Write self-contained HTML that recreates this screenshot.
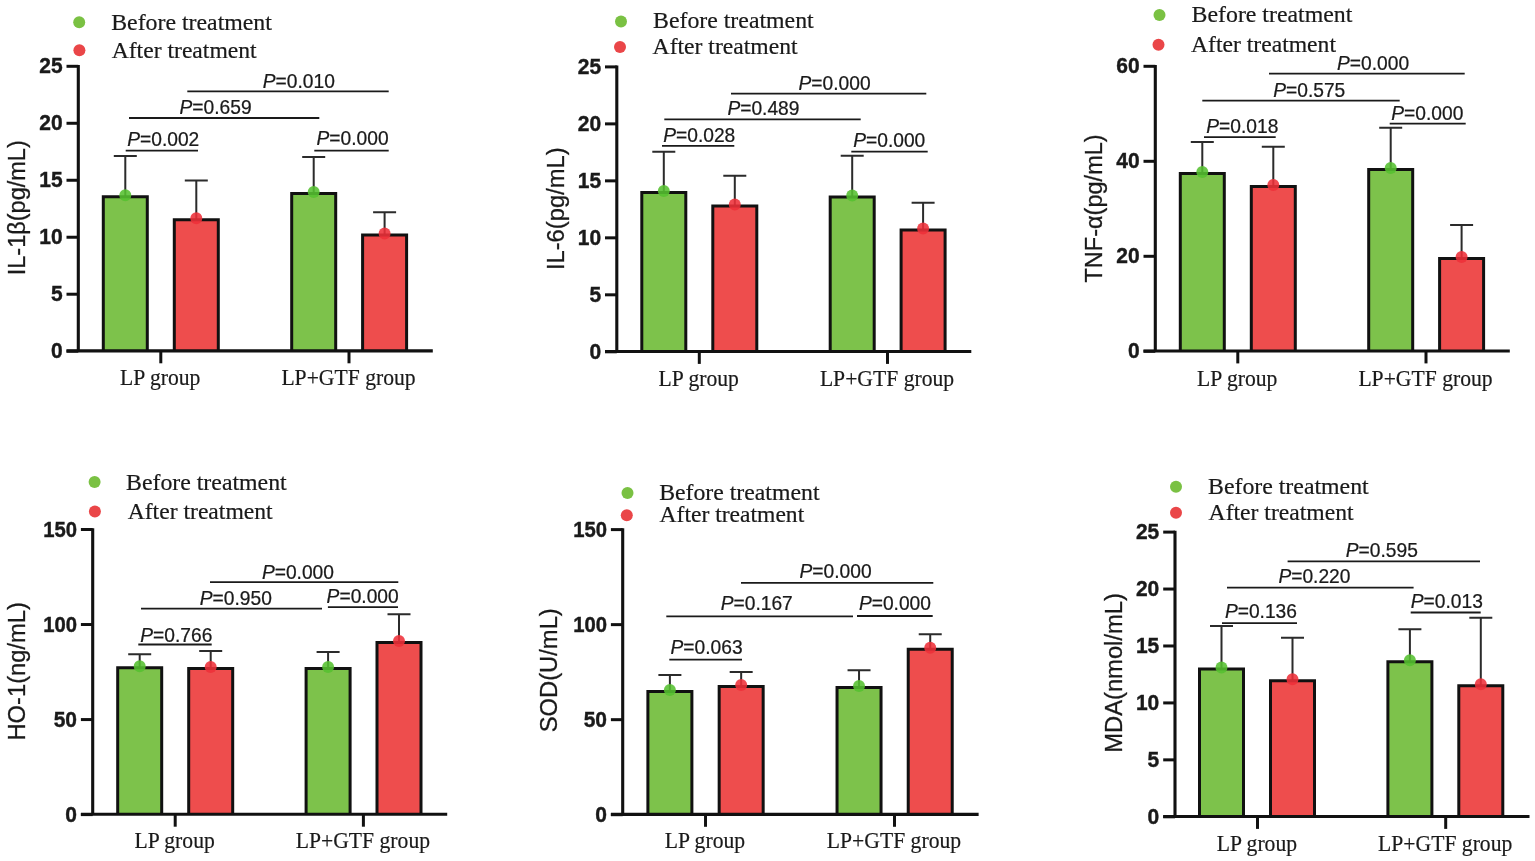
<!DOCTYPE html>
<html lang="en"><head><meta charset="utf-8"><title>Inflammatory and oxidative stress markers before and after treatment</title>
<style>
html,body{margin:0;padding:0;background:#fff;}
body{width:1535px;height:861px;overflow:hidden;}
svg{display:block;}
.ser{font-family:"Liberation Serif","Times New Roman",serif;fill:#1a1a1a;}
.san{font-family:"Liberation Sans",Arial,sans-serif;fill:#1a1a1a;}
.tk{font-family:"Liberation Sans",Arial,sans-serif;font-weight:bold;font-size:21px;fill:#1a1a1a;text-anchor:end;stroke:#1a1a1a;stroke-width:0.4px;}
.pv{font-family:"Liberation Sans",Arial,sans-serif;font-size:19.8px;fill:#1a1a1a;stroke:#1a1a1a;stroke-width:0.25px;}
.yt{font-family:"Liberation Sans",Arial,sans-serif;font-size:24px;fill:#1a1a1a;stroke:#1a1a1a;stroke-width:0.3px;}
.lg{font-family:"Liberation Serif","Times New Roman",serif;font-size:22.6px;fill:#1a1a1a;stroke:#1a1a1a;stroke-width:0.2px;}
.xl{font-family:"Liberation Serif","Times New Roman",serif;font-size:22.8px;fill:#1a1a1a;text-anchor:middle;stroke:#1a1a1a;stroke-width:0.2px;}
.ax{stroke:#111;stroke-width:3.1;fill:none;}
.tl{stroke:#111;stroke-width:3;fill:none;}
.pl{stroke:#1a1a1a;stroke-width:1.8;fill:none;}
.eb{stroke:#2b2b2b;stroke-width:2;fill:none;}
.bg{fill:#7dc24b;stroke:#111;stroke-width:3;}
.br{fill:#ee4d4d;stroke:#111;stroke-width:3;}
</style></head><body>
<svg width="1535" height="861" viewBox="0 0 1535 861">
<rect x="0" y="0" width="1535" height="861" fill="#ffffff"/>
<g>
<circle cx="79.2" cy="22.2" r="6" fill="#7ac143"/>
<text class="lg" x="111.2" y="29.5" textLength="160.7" lengthAdjust="spacingAndGlyphs">Before treatment</text>
<circle cx="79.4" cy="50.3" r="6" fill="#ea4648"/>
<text class="lg" x="111.7" y="57.6" textLength="145" lengthAdjust="spacingAndGlyphs">After treatment</text>
<path class="eb" d="M125.3 196V156M113.8 156H136.8"/>
<path class="bg" d="M103.3 351.2V196.8H147.3V351.2"/>
<circle cx="125.3" cy="195.3" r="6" fill="#55c030" fill-opacity="0.88"/>
<path class="eb" d="M196.3 219V180.6M184.8 180.6H207.8"/>
<path class="br" d="M174.3 351.2V219.8H218.3V351.2"/>
<circle cx="196.3" cy="218.3" r="6" fill="#ee3039" fill-opacity="0.88"/>
<path class="eb" d="M313.7 192.7V157M302.2 157H325.2"/>
<path class="bg" d="M291.7 351.2V193.5H335.7V351.2"/>
<circle cx="313.7" cy="192" r="6" fill="#55c030" fill-opacity="0.88"/>
<path class="eb" d="M384.6 234.3V212.2M373.1 212.2H396.1"/>
<path class="br" d="M362.6 351.2V235.1H406.6V351.2"/>
<circle cx="384.6" cy="233.6" r="6" fill="#ee3039" fill-opacity="0.88"/>
<path class="ax" d="M78.3 64.95V351.2"/>
<path class="ax" d="M66.5 350.9H432.8"/>
<path class="tl" d="M66.5 351.2H78.3"/>
<text class="tk" transform="translate(62.6 358.3) scale(1 1.01)">0</text>
<path class="tl" d="M66.5 294.22H78.3"/>
<text class="tk" transform="translate(62.6 301.32) scale(1 1.01)">5</text>
<path class="tl" d="M66.5 237.24H78.3"/>
<text class="tk" transform="translate(62.6 244.34) scale(1 1.01)">10</text>
<path class="tl" d="M66.5 180.26H78.3"/>
<text class="tk" transform="translate(62.6 187.36) scale(1 1.01)">15</text>
<path class="tl" d="M66.5 123.28H78.3"/>
<text class="tk" transform="translate(62.6 130.38) scale(1 1.01)">20</text>
<path class="tl" d="M66.5 66.3H78.3"/>
<text class="tk" transform="translate(62.6 73.4) scale(1 1.01)">25</text>
<path class="tl" d="M160.8 351.2V363.3"/>
<path class="tl" d="M349 351.2V363.3"/>
<text class="xl" transform="translate(160.2 385) scale(0.95 1)">LP group</text>
<text class="xl" transform="translate(348.5 385) scale(0.95 1)">LP+GTF group</text>
<path class="pl" d="M125.7 150.7H198"/>
<text class="pv" transform="translate(127.2 145.7) scale(0.97 1)"><tspan font-style="italic">P</tspan>=0.002</text>
<path class="pl" d="M314.3 150.7H388.7"/>
<text class="pv" transform="translate(316.5 144.9) scale(0.97 1)"><tspan font-style="italic">P</tspan>=0.000</text>
<path class="pl" d="M129 118H319.3"/>
<text class="pv" transform="translate(179.5 113.5) scale(0.97 1)"><tspan font-style="italic">P</tspan>=0.659</text>
<path class="pl" d="M187.3 91.3H388.7"/>
<text class="pv" transform="translate(262.8 88.4) scale(0.97 1)"><tspan font-style="italic">P</tspan>=0.010</text>
<text class="yt" transform="translate(25.1 275.3) rotate(-90) scale(0.98 1)">IL-1β(pg/mL)</text>
</g>
<g>
<circle cx="621" cy="21.5" r="6" fill="#7ac143"/>
<text class="lg" x="653" y="28.2" textLength="160.7" lengthAdjust="spacingAndGlyphs">Before treatment</text>
<circle cx="620" cy="47" r="6" fill="#ea4648"/>
<text class="lg" x="652.6" y="54.2" textLength="145" lengthAdjust="spacingAndGlyphs">After treatment</text>
<path class="eb" d="M663.8 191.7V151.7M652.3 151.7H675.3"/>
<path class="bg" d="M641.8 351.8V192.5H685.8V351.8"/>
<circle cx="663.8" cy="191" r="6" fill="#55c030" fill-opacity="0.88"/>
<path class="eb" d="M734.8 205.3V175.7M723.3 175.7H746.3"/>
<path class="br" d="M712.8 351.8V206.1H756.8V351.8"/>
<circle cx="734.8" cy="204.6" r="6" fill="#ee3039" fill-opacity="0.88"/>
<path class="eb" d="M852.2 196.3V155.7M840.7 155.7H863.7"/>
<path class="bg" d="M830.2 351.8V197.1H874.2V351.8"/>
<circle cx="852.2" cy="195.6" r="6" fill="#55c030" fill-opacity="0.88"/>
<path class="eb" d="M923.1 229.3V202.7M911.6 202.7H934.6"/>
<path class="br" d="M901.1 351.8V230.1H945.1V351.8"/>
<circle cx="923.1" cy="228.6" r="6" fill="#ee3039" fill-opacity="0.88"/>
<path class="ax" d="M616.8 65.55V351.8"/>
<path class="ax" d="M605 351.5H971.3"/>
<path class="tl" d="M605 351.8H616.8"/>
<text class="tk" transform="translate(601.1 358.9) scale(1 1.01)">0</text>
<path class="tl" d="M605 294.82H616.8"/>
<text class="tk" transform="translate(601.1 301.92) scale(1 1.01)">5</text>
<path class="tl" d="M605 237.84H616.8"/>
<text class="tk" transform="translate(601.1 244.94) scale(1 1.01)">10</text>
<path class="tl" d="M605 180.86H616.8"/>
<text class="tk" transform="translate(601.1 187.96) scale(1 1.01)">15</text>
<path class="tl" d="M605 123.88H616.8"/>
<text class="tk" transform="translate(601.1 130.98) scale(1 1.01)">20</text>
<path class="tl" d="M605 66.9H616.8"/>
<text class="tk" transform="translate(601.1 74) scale(1 1.01)">25</text>
<path class="tl" d="M699.3 351.8V363.9"/>
<path class="tl" d="M887.5 351.8V363.9"/>
<text class="xl" transform="translate(698.7 385.5) scale(0.95 1)">LP group</text>
<text class="xl" transform="translate(887 385.5) scale(0.95 1)">LP+GTF group</text>
<path class="pl" d="M662 145.8H734.3"/>
<text class="pv" transform="translate(663.2 141.9) scale(0.97 1)"><tspan font-style="italic">P</tspan>=0.028</text>
<path class="pl" d="M851.3 151.7H927.7"/>
<text class="pv" transform="translate(853.2 146.9) scale(0.97 1)"><tspan font-style="italic">P</tspan>=0.000</text>
<path class="pl" d="M664.3 119.4H860.7"/>
<text class="pv" transform="translate(727.4 114.7) scale(0.97 1)"><tspan font-style="italic">P</tspan>=0.489</text>
<path class="pl" d="M731 93.7H926.3"/>
<text class="pv" transform="translate(798.5 89.9) scale(0.97 1)"><tspan font-style="italic">P</tspan>=0.000</text>
<text class="yt" transform="translate(563.5 270.1) rotate(-90) scale(0.99 1)">IL-6(pg/mL)</text>
</g>
<g>
<circle cx="1159.5" cy="15" r="6" fill="#7ac143"/>
<text class="lg" x="1191.6" y="22.1" textLength="160.7" lengthAdjust="spacingAndGlyphs">Before treatment</text>
<circle cx="1158.5" cy="44.8" r="6" fill="#ea4648"/>
<text class="lg" x="1191" y="51.8" textLength="145" lengthAdjust="spacingAndGlyphs">After treatment</text>
<path class="eb" d="M1202.3 172.7V142M1190.8 142H1213.8"/>
<path class="bg" d="M1180.3 351.3V173.5H1224.3V351.3"/>
<circle cx="1202.3" cy="172" r="6" fill="#55c030" fill-opacity="0.88"/>
<path class="eb" d="M1273.3 185.7V146.7M1261.8 146.7H1284.8"/>
<path class="br" d="M1251.3 351.3V186.5H1295.3V351.3"/>
<circle cx="1273.3" cy="185" r="6" fill="#ee3039" fill-opacity="0.88"/>
<path class="eb" d="M1390.7 168.7V127.7M1379.2 127.7H1402.2"/>
<path class="bg" d="M1368.7 351.3V169.5H1412.7V351.3"/>
<circle cx="1390.7" cy="168" r="6" fill="#55c030" fill-opacity="0.88"/>
<path class="eb" d="M1461.6 257.7V225M1450.1 225H1473.1"/>
<path class="br" d="M1439.6 351.3V258.5H1483.6V351.3"/>
<circle cx="1461.6" cy="257" r="6" fill="#ee3039" fill-opacity="0.88"/>
<path class="ax" d="M1155.3 64.95V351.3"/>
<path class="ax" d="M1143.5 351H1509.8"/>
<path class="tl" d="M1143.5 351.3H1155.3"/>
<text class="tk" transform="translate(1139.6 358.4) scale(1 1.01)">0</text>
<path class="tl" d="M1143.5 256.3H1155.3"/>
<text class="tk" transform="translate(1139.6 263.4) scale(1 1.01)">20</text>
<path class="tl" d="M1143.5 161.3H1155.3"/>
<text class="tk" transform="translate(1139.6 168.4) scale(1 1.01)">40</text>
<path class="tl" d="M1143.5 66.3H1155.3"/>
<text class="tk" transform="translate(1139.6 73.4) scale(1 1.01)">60</text>
<path class="tl" d="M1237.8 351.3V363.4"/>
<path class="tl" d="M1426 351.3V363.4"/>
<text class="xl" transform="translate(1237.2 385.6) scale(0.95 1)">LP group</text>
<text class="xl" transform="translate(1425.5 385.6) scale(0.95 1)">LP+GTF group</text>
<path class="pl" d="M1204 137.1H1275.7"/>
<text class="pv" transform="translate(1206.3 132.8) scale(0.97 1)"><tspan font-style="italic">P</tspan>=0.018</text>
<path class="pl" d="M1389.7 123.7H1465.7"/>
<text class="pv" transform="translate(1391.3 120.4) scale(0.97 1)"><tspan font-style="italic">P</tspan>=0.000</text>
<path class="pl" d="M1202.3 100.7H1399.7"/>
<text class="pv" transform="translate(1273.2 97.1) scale(0.97 1)"><tspan font-style="italic">P</tspan>=0.575</text>
<path class="pl" d="M1269 73.7H1464.7"/>
<text class="pv" transform="translate(1337 69.9) scale(0.97 1)"><tspan font-style="italic">P</tspan>=0.000</text>
<text class="yt" transform="translate(1102.4 282.5) rotate(-90) scale(0.98 1)">TNF-α(pg/mL)</text>
</g>
<g>
<circle cx="94.6" cy="482" r="6" fill="#7ac143"/>
<text class="lg" x="126" y="489.5" textLength="160.7" lengthAdjust="spacingAndGlyphs">Before treatment</text>
<circle cx="94.9" cy="511.6" r="6" fill="#ea4648"/>
<text class="lg" x="127.7" y="519.1" textLength="145" lengthAdjust="spacingAndGlyphs">After treatment</text>
<path class="eb" d="M139.7 667V654.3M128.2 654.3H151.2"/>
<path class="bg" d="M117.7 814.6V667.8H161.7V814.6"/>
<circle cx="139.7" cy="666.3" r="6" fill="#55c030" fill-opacity="0.88"/>
<path class="eb" d="M210.7 667.7V651M199.2 651H222.2"/>
<path class="br" d="M188.7 814.6V668.5H232.7V814.6"/>
<circle cx="210.7" cy="667" r="6" fill="#ee3039" fill-opacity="0.88"/>
<path class="eb" d="M328.1 667.7V652M316.6 652H339.6"/>
<path class="bg" d="M306.1 814.6V668.5H350.1V814.6"/>
<circle cx="328.1" cy="667" r="6" fill="#55c030" fill-opacity="0.88"/>
<path class="eb" d="M399 641.7V614.2M387.5 614.2H410.5"/>
<path class="br" d="M377 814.6V642.5H421V814.6"/>
<circle cx="399" cy="641" r="6" fill="#ee3039" fill-opacity="0.88"/>
<path class="ax" d="M92.7 528.15V814.6"/>
<path class="ax" d="M80.9 814.3H447.2"/>
<path class="tl" d="M80.9 814.6H92.7"/>
<text class="tk" transform="translate(77 821.7) scale(1 1.01)">0</text>
<path class="tl" d="M80.9 719.57H92.7"/>
<text class="tk" transform="translate(77 726.67) scale(1 1.01)">50</text>
<path class="tl" d="M80.9 624.53H92.7"/>
<text class="tk" transform="translate(77 631.63) scale(0.965 1.01)">100</text>
<path class="tl" d="M80.9 529.5H92.7"/>
<text class="tk" transform="translate(77 536.6) scale(0.965 1.01)">150</text>
<path class="tl" d="M175.2 814.6V826.7"/>
<path class="tl" d="M363.4 814.6V826.7"/>
<text class="xl" transform="translate(174.6 848.4) scale(0.95 1)">LP group</text>
<text class="xl" transform="translate(362.9 848.4) scale(0.95 1)">LP+GTF group</text>
<path class="pl" d="M138.3 644.5H211.7"/>
<text class="pv" transform="translate(140.3 642) scale(0.97 1)"><tspan font-style="italic">P</tspan>=0.766</text>
<path class="pl" d="M327.9 607.2H398"/>
<text class="pv" transform="translate(326.6 603.2) scale(0.97 1)"><tspan font-style="italic">P</tspan>=0.000</text>
<path class="pl" d="M141 608.6H322"/>
<text class="pv" transform="translate(199.8 605) scale(0.97 1)"><tspan font-style="italic">P</tspan>=0.950</text>
<path class="pl" d="M210 582.2H398.3"/>
<text class="pv" transform="translate(261.9 578.5) scale(0.97 1)"><tspan font-style="italic">P</tspan>=0.000</text>
<text class="yt" transform="translate(24.7 740.6) rotate(-90) scale(0.99 1)">HO-1(ng/mL)</text>
</g>
<g>
<circle cx="627.5" cy="492.9" r="6" fill="#7ac143"/>
<text class="lg" x="659.2" y="500.1" textLength="160.3" lengthAdjust="spacingAndGlyphs">Before treatment</text>
<circle cx="626.8" cy="515.2" r="6" fill="#ea4648"/>
<text class="lg" x="659.6" y="521.9" textLength="144.6" lengthAdjust="spacingAndGlyphs">After treatment</text>
<path class="eb" d="M669.89 690.7V675M658.39 675H681.39"/>
<path class="bg" d="M647.89 814.7V691.5H691.89V814.7"/>
<circle cx="669.89" cy="690" r="6" fill="#55c030" fill-opacity="0.88"/>
<path class="eb" d="M741.17 685.7V672M729.67 672H752.67"/>
<path class="br" d="M719.17 814.7V686.5H763.17V814.7"/>
<circle cx="741.17" cy="685" r="6" fill="#ee3039" fill-opacity="0.88"/>
<path class="eb" d="M859.04 686.7V670.3M847.54 670.3H870.54"/>
<path class="bg" d="M837.04 814.7V687.5H881.04V814.7"/>
<circle cx="859.04" cy="686" r="6" fill="#55c030" fill-opacity="0.88"/>
<path class="eb" d="M930.23 648.5V634.2M918.73 634.2H941.73"/>
<path class="br" d="M908.23 814.7V649.3H952.23V814.7"/>
<circle cx="930.23" cy="647.8" r="6" fill="#ee3039" fill-opacity="0.88"/>
<path class="ax" d="M622.7 528.25V814.7"/>
<path class="ax" d="M610.9 814.4H978.62"/>
<path class="tl" d="M610.9 814.7H622.7"/>
<text class="tk" transform="translate(607 821.8) scale(1 1.01)">0</text>
<path class="tl" d="M610.9 719.67H622.7"/>
<text class="tk" transform="translate(607 726.77) scale(1 1.01)">50</text>
<path class="tl" d="M610.9 624.63H622.7"/>
<text class="tk" transform="translate(607 631.73) scale(0.965 1.01)">100</text>
<path class="tl" d="M610.9 529.6H622.7"/>
<text class="tk" transform="translate(607 536.7) scale(0.965 1.01)">150</text>
<path class="tl" d="M705.53 814.7V826.8"/>
<path class="tl" d="M894.48 814.7V826.8"/>
<text class="xl" transform="translate(704.93 848.4) scale(0.95 1)">LP group</text>
<text class="xl" transform="translate(893.98 848.4) scale(0.95 1)">LP+GTF group</text>
<path class="pl" d="M669.3 659.7H742"/>
<text class="pv" transform="translate(670.5 654.4) scale(0.97 1)"><tspan font-style="italic">P</tspan>=0.063</text>
<path class="pl" d="M857 616H932.7"/>
<text class="pv" transform="translate(858.9 609.5) scale(0.97 1)"><tspan font-style="italic">P</tspan>=0.000</text>
<path class="pl" d="M666.3 616.3H853"/>
<text class="pv" transform="translate(720.7 609.5) scale(0.97 1)"><tspan font-style="italic">P</tspan>=0.167</text>
<path class="pl" d="M741 582.8H933.3"/>
<text class="pv" transform="translate(799.5 577.9) scale(0.97 1)"><tspan font-style="italic">P</tspan>=0.000</text>
<text class="yt" transform="translate(557.2 732.3) rotate(-90) scale(0.99 1)">SOD(U/mL)</text>
</g>
<g>
<circle cx="1176" cy="486.7" r="6" fill="#7ac143"/>
<text class="lg" x="1208" y="494.1" textLength="160.7" lengthAdjust="spacingAndGlyphs">Before treatment</text>
<circle cx="1176" cy="512.7" r="6" fill="#ea4648"/>
<text class="lg" x="1208.6" y="519.8" textLength="145" lengthAdjust="spacingAndGlyphs">After treatment</text>
<path class="eb" d="M1221.5 668.3V626M1210 626H1233"/>
<path class="bg" d="M1199.5 816.8V669.1H1243.5V816.8"/>
<circle cx="1221.5" cy="667.6" r="6" fill="#55c030" fill-opacity="0.88"/>
<path class="eb" d="M1292.5 680V637.7M1281 637.7H1304"/>
<path class="br" d="M1270.5 816.8V680.8H1314.5V816.8"/>
<circle cx="1292.5" cy="679.3" r="6" fill="#ee3039" fill-opacity="0.88"/>
<path class="eb" d="M1409.9 661V629.3M1398.4 629.3H1421.4"/>
<path class="bg" d="M1387.9 816.8V661.8H1431.9V816.8"/>
<circle cx="1409.9" cy="660.3" r="6" fill="#55c030" fill-opacity="0.88"/>
<path class="eb" d="M1480.8 685V617.8M1469.3 617.8H1492.3"/>
<path class="br" d="M1458.8 816.8V685.8H1502.8V816.8"/>
<circle cx="1480.8" cy="684.3" r="6" fill="#ee3039" fill-opacity="0.88"/>
<path class="ax" d="M1175 530.75V816.8"/>
<path class="ax" d="M1163.2 816.5H1529.5"/>
<path class="tl" d="M1163.2 816.8H1175"/>
<text class="tk" transform="translate(1159.3 823.9) scale(1 1.01)">0</text>
<path class="tl" d="M1163.2 759.86H1175"/>
<text class="tk" transform="translate(1159.3 766.96) scale(1 1.01)">5</text>
<path class="tl" d="M1163.2 702.92H1175"/>
<text class="tk" transform="translate(1159.3 710.02) scale(1 1.01)">10</text>
<path class="tl" d="M1163.2 645.98H1175"/>
<text class="tk" transform="translate(1159.3 653.08) scale(1 1.01)">15</text>
<path class="tl" d="M1163.2 589.04H1175"/>
<text class="tk" transform="translate(1159.3 596.14) scale(1 1.01)">20</text>
<path class="tl" d="M1163.2 532.1H1175"/>
<text class="tk" transform="translate(1159.3 539.2) scale(1 1.01)">25</text>
<path class="tl" d="M1257.5 816.8V828.9"/>
<path class="tl" d="M1445.7 816.8V828.9"/>
<text class="xl" transform="translate(1256.9 850.6) scale(0.95 1)">LP group</text>
<text class="xl" transform="translate(1445.2 850.6) scale(0.95 1)">LP+GTF group</text>
<path class="pl" d="M1222 623.1H1297"/>
<text class="pv" transform="translate(1224.9 618.4) scale(0.97 1)"><tspan font-style="italic">P</tspan>=0.136</text>
<path class="pl" d="M1410.7 612.5H1480.7"/>
<text class="pv" transform="translate(1410.8 608) scale(0.97 1)"><tspan font-style="italic">P</tspan>=0.013</text>
<path class="pl" d="M1227 587.7H1413.6"/>
<text class="pv" transform="translate(1278.4 583.3) scale(0.97 1)"><tspan font-style="italic">P</tspan>=0.220</text>
<path class="pl" d="M1287.6 561.4H1480"/>
<text class="pv" transform="translate(1345.8 556.8) scale(0.97 1)"><tspan font-style="italic">P</tspan>=0.595</text>
<text class="yt" transform="translate(1121.8 752.8) rotate(-90) scale(0.99 1)">MDA(nmol/mL)</text>
</g>
</svg>
</body></html>
